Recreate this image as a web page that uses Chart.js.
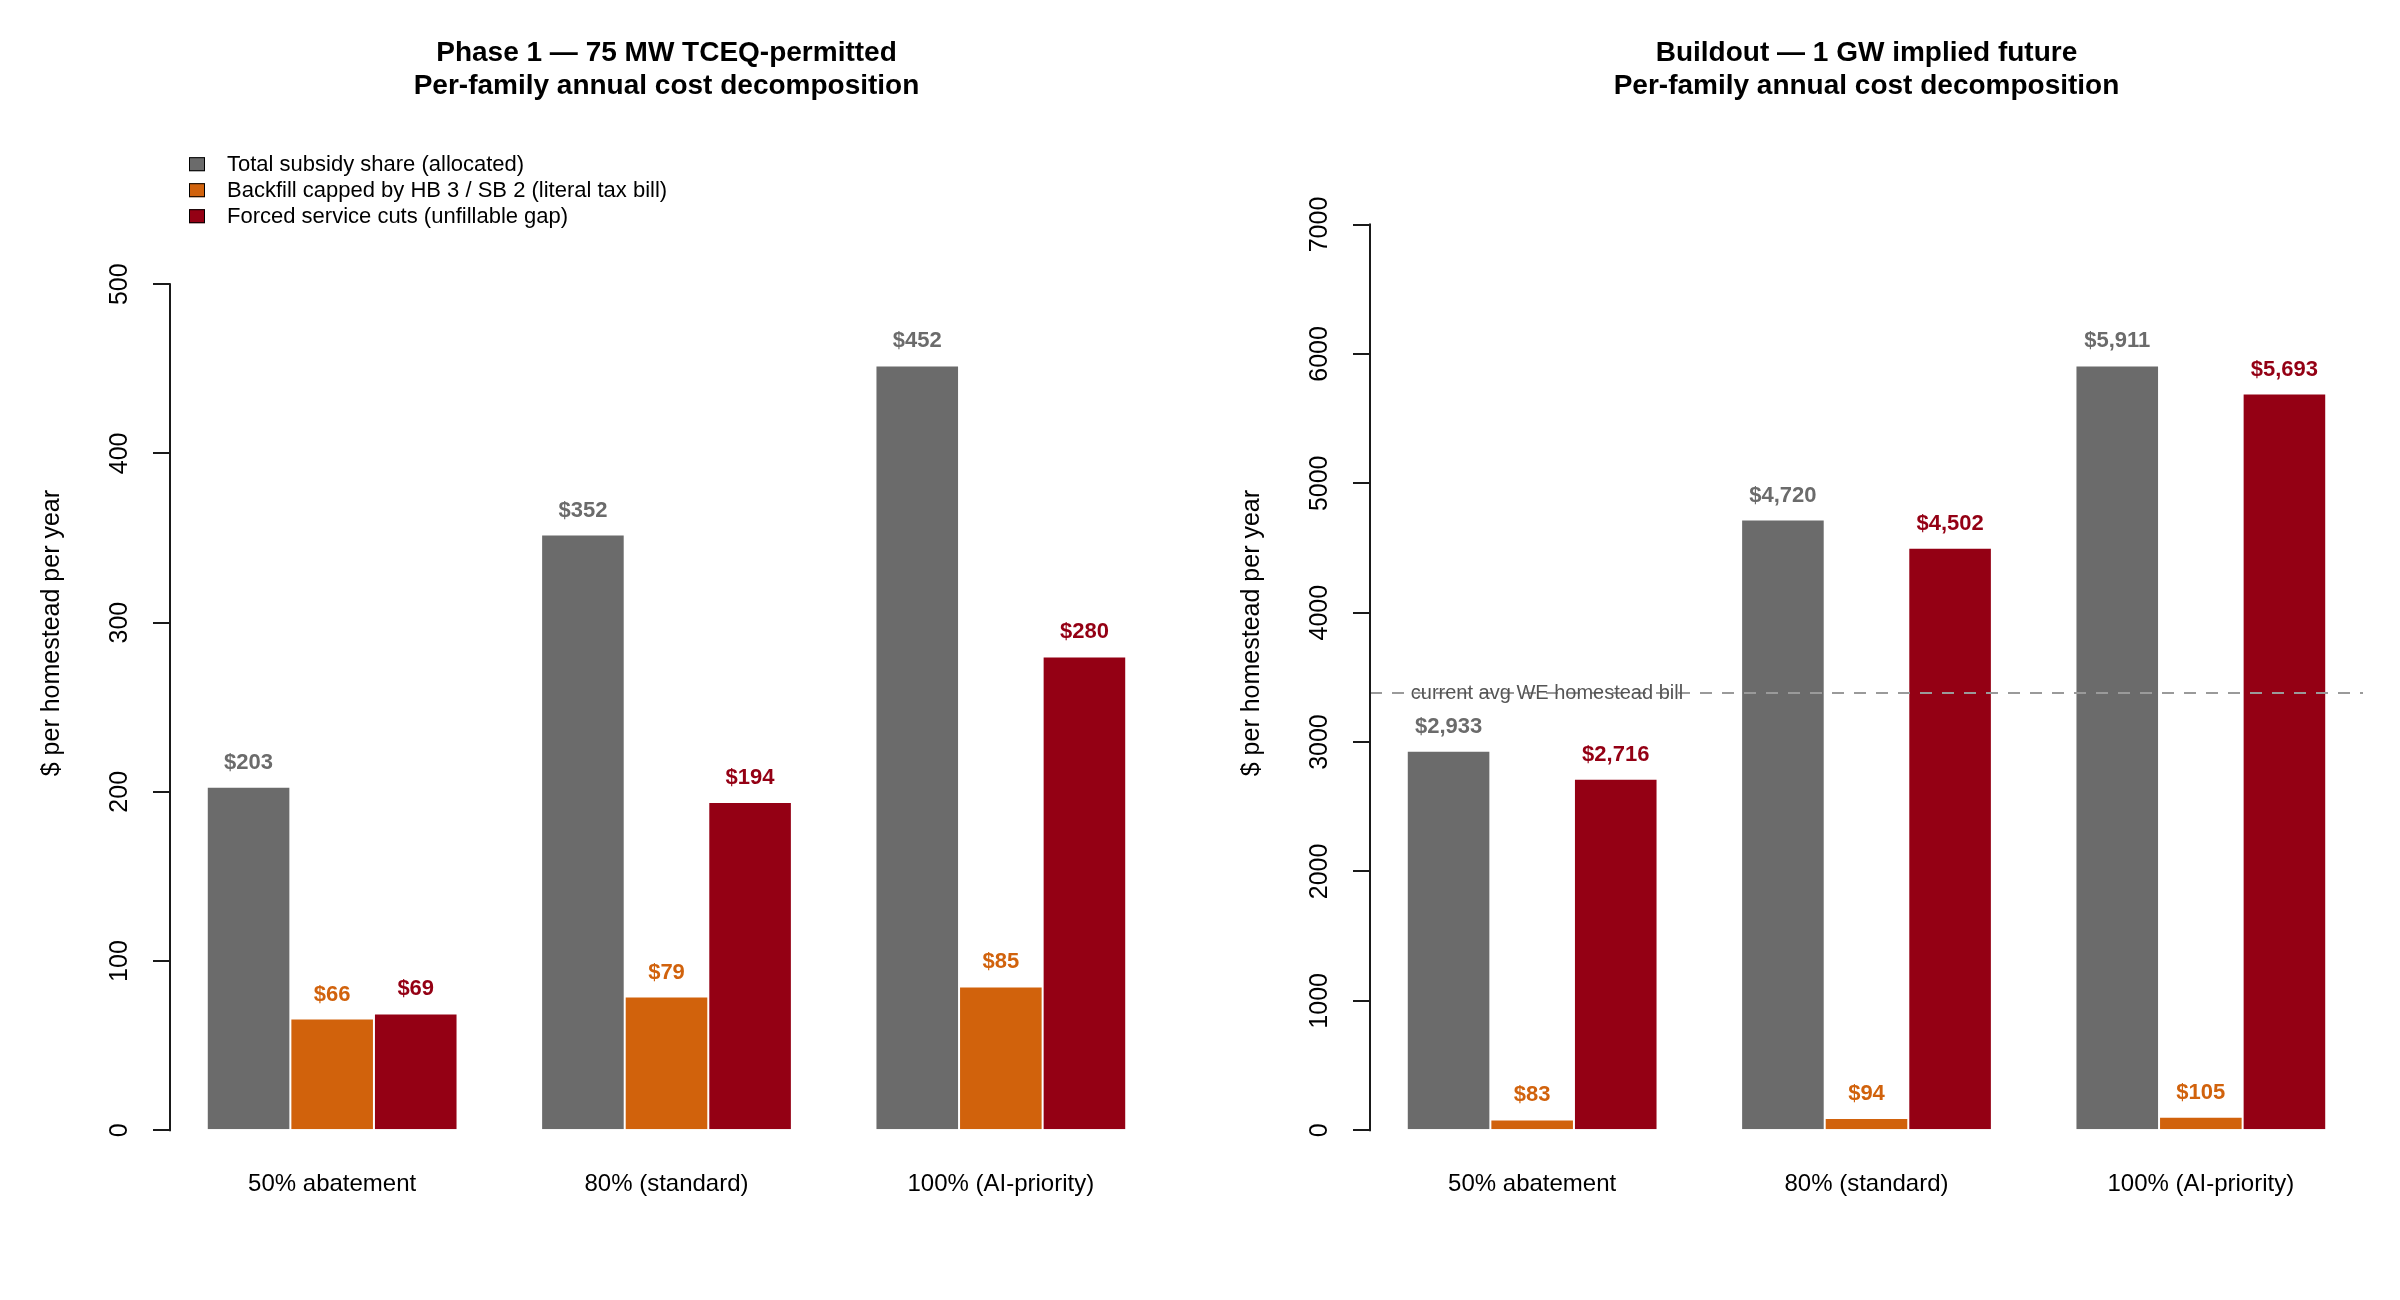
<!DOCTYPE html>
<html>
<head>
<meta charset="utf-8">
<script src="https://cdn.jsdelivr.net/npm/chart.js@4.4.1/dist/chart.umd.min.js"></script>
<style>
  html, body { margin: 0; padding: 0; background: #fff; }
  #wrap { position: relative; width: 2400px; height: 1300px; }
  canvas { position: absolute; top: 0; }
</style>
</head>
<body>
<div id="wrap">
  <canvas id="left" width="1200" height="1300" style="left:0"></canvas>
  <canvas id="right" width="1200" height="1300" style="left:1200px"></canvas>
</div>
<script>
// categories and series
const categories = ["50% abatement", "80% (standard)", "100% (AI-priority)"];
const seriesNames = [
  "Total subsidy share (allocated)",
  "Backfill capped by HB 3 / SB 2 (literal tax bill)",
  "Forced service cuts (unfillable gap)"
];

const phase1Total = [203, 352, 452];
const phase1Backfill = [66, 79, 85];
const phase1Cuts = [69, 194, 280];

const buildTotal = [2933, 4720, 5911];
const buildBackfill = [83, 94, 105];
const buildCuts = [2716, 4502, 5693];

const avgHomesteadBill = 3380;
const avgBillLabel = "current avg WE homestead bill";

const phase1Ticks = [0, 100, 200, 300, 400, 500];
const buildTicks = [0, 1000, 2000, 3000, 4000, 5000, 6000, 7000];

const FONT = "'Liberation Sans', Arial, Helvetica, sans-serif";
const COLORS = ["#6b6b6b", "#d1620c", "#940014"];

function fmtDollar(v) {
  return "$" + v.toLocaleString("en-US");
}

// value labels above bars
const valueLabels = {
  id: "valueLabels",
  afterDatasetsDraw(chart) {
    const ctx = chart.ctx;
    ctx.save();
    ctx.font = "bold 22px " + FONT;
    ctx.textAlign = "center";
    ctx.textBaseline = "alphabetic";
    chart.data.datasets.forEach((ds, i) => {
      const meta = chart.getDatasetMeta(i);
      ctx.fillStyle = ds.backgroundColor;
      meta.data.forEach((bar, j) => {
        ctx.fillText(fmtDollar(ds.data[j]), bar.x, bar.y - 18);
      });
    });
    ctx.restore();
  }
};

// R-style axis line: only spans the tick range
const axisLine = {
  id: "axisLine",
  afterDraw(chart) {
    const y = chart.scales.y;
    const ticks = y.ticks;
    const ctx = chart.ctx;
    ctx.save();
    ctx.strokeStyle = "#1a1a1a";
    ctx.lineWidth = 2;
    ctx.beginPath();
    ctx.moveTo(chart.chartArea.left, y.getPixelForValue(ticks[0].value) + 1);
    ctx.lineTo(chart.chartArea.left, y.getPixelForValue(ticks[ticks.length - 1].value) - 1);
    ctx.stroke();
    ctx.restore();
  }
};

// legend in the top-left of the plot region
const boxLegend = {
  id: "boxLegend",
  afterDraw(chart, args, opts) {
    if (!opts.show) return;
    const ctx = chart.ctx;
    const a = chart.chartArea;
    ctx.save();
    ctx.font = "22px " + FONT;
    ctx.textBaseline = "middle";
    ctx.textAlign = "left";
    chart.data.datasets.forEach((ds, i) => {
      const cy = a.top + 68 + 26 * i;
      ctx.fillStyle = ds.backgroundColor;
      ctx.fillRect(a.left + 19, cy - 7, 16, 14);
      ctx.strokeStyle = "#000";
      ctx.lineWidth = 1;
      ctx.strokeRect(a.left + 19.5, cy - 6.5, 15, 13);
      ctx.fillStyle = "#000";
      ctx.fillText(ds.label, a.left + 57, cy + 1);
    });
    ctx.restore();
  }
};

// dashed reference line with label
const refLine = {
  id: "refLine",
  afterDatasetsDraw(chart, args, opts) {
    if (opts.value == null) return;
    const ctx = chart.ctx;
    const a = chart.chartArea;
    const py = chart.scales.y.getPixelForValue(opts.value);
    ctx.save();
    ctx.strokeStyle = "#9a9a9a";
    ctx.lineWidth = 2;
    ctx.setLineDash([12, 10]);
    ctx.beginPath();
    ctx.moveTo(a.left, py);
    ctx.lineTo(a.right, py);
    ctx.stroke();
    ctx.setLineDash([]);
    const firstBar = chart.getDatasetMeta(0).data[0];
    ctx.font = "20px " + FONT;
    ctx.fillStyle = "#555";
    ctx.textAlign = "left";
    ctx.textBaseline = "alphabetic";
    ctx.fillText(opts.label, firstBar.x - firstBar.width / 2 + 4, py + 6);
    ctx.restore();
  }
};

function makePanel(canvasId, titleLines, series, ticks, opts) {
  const allVals = series.flat();
  const top = Math.max(...allVals) * 1.3; // R ylim = c(0, max * 1.3)
  return new Chart(document.getElementById(canvasId), {
    type: "bar",
    data: {
      labels: categories,
      datasets: series.map((vals, i) => ({
        label: seriesNames[i],
        data: vals,
        backgroundColor: COLORS[i],
        borderColor: "#ffffff",
        borderWidth: 1,
        barPercentage: 1.0,
        categoryPercentage: 0.75
      }))
    },
    options: {
      responsive: false,
      animation: false,
      layout: { padding: { left: 20, right: 37, top: 0, bottom: 30 } },
      scales: {
        x: {
          grid: { display: false, drawTicks: false },
          border: { display: false },
          ticks: { color: "#000", padding: 0, font: { family: FONT, size: 24 } },
          // barplot(space = c(0, 1)): groups 4 units apart, region padded 4%
          afterBuildTicks: s => { s._startValue = -0.485; s._valueRange = 2.97; },
          afterFit: s => { s.height = 100; }
        },
        y: {
          min: -0.04 * top,
          max: 1.04 * top,
          afterBuildTicks: s => { s.ticks = ticks.map(v => ({ value: v })); },
          afterFit: s => { s.width = 150; },
          border: { display: false },
          grid: { drawOnChartArea: false, drawTicks: true, tickLength: 17, color: "#1a1a1a", lineWidth: 2 },
          ticks: {
            autoSkip: false,
            minRotation: 90,
            maxRotation: 90,
            crossAlign: "center",
            padding: opts.tickPad,
            color: "#000",
            font: { family: FONT, size: 25 },
            callback: v => String(v)
          },
          title: {
            display: true,
            text: "$ per homestead per year",
            color: "#000",
            font: { family: FONT, size: 25 },
            padding: { top: 17, bottom: 0 }
          }
        }
      },
      plugins: {
        legend: { display: false },
        tooltip: { enabled: false },
        title: {
          display: true,
          text: titleLines,
          fullSize: false,
          color: "#000",
          font: { family: FONT, size: 28, weight: "bold", lineHeight: 1.2 },
          padding: { top: 36, bottom: -7 }
        },
        boxLegend: { show: opts.legend },
        refLine: { value: opts.refValue, label: opts.refLabel }
      }
    },
    plugins: [valueLabels, axisLine, boxLegend, refLine]
  });
}

makePanel("left",
  ["Phase 1 \u2014 75 MW TCEQ-permitted", "Per-family annual cost decomposition"],
  [phase1Total, phase1Backfill, phase1Cuts],
  phase1Ticks,
  { legend: true, tickPad: 12, refValue: null });

makePanel("right",
  ["Buildout \u2014 1 GW implied future", "Per-family annual cost decomposition"],
  [buildTotal, buildBackfill, buildCuts],
  buildTicks,
  { legend: false, tickPad: 5, refValue: avgHomesteadBill, refLabel: avgBillLabel });
</script>
</body>
</html>
